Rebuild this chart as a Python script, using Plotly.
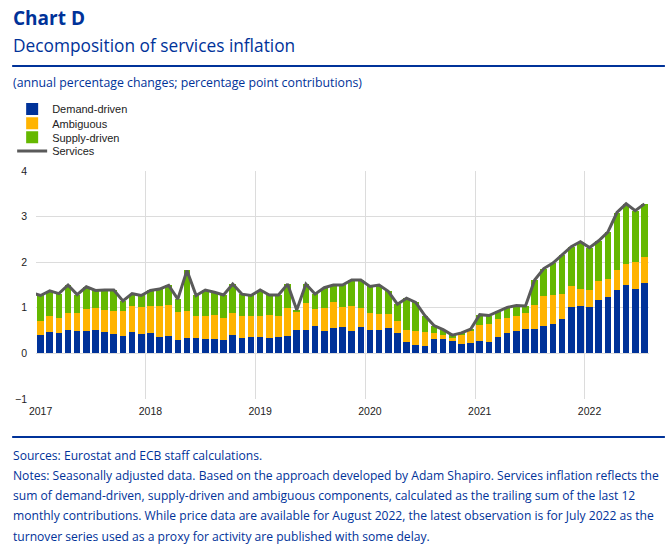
import plotly.graph_objects as go
import numpy as np

# ---------------- data ----------------
months = [f"{y}-{m:02d}" for y in range(2017, 2023) for m in range(1, 13)][:67]
year_labels = ["2017", "2018", "2019", "2020", "2021", "2022"]

demand = [
    0.40, 0.48, 0.45, 0.51, 0.49, 0.49, 0.51, 0.46, 0.42, 0.38, 0.47, 0.43,
    0.45, 0.36, 0.38, 0.29, 0.33, 0.34, 0.32, 0.32, 0.29, 0.41, 0.34, 0.37,
    0.35, 0.34, 0.37, 0.39, 0.52, 0.51, 0.61, 0.49, 0.55, 0.59, 0.50, 0.58,
    0.52, 0.52, 0.56, 0.44, 0.24, 0.19, 0.16, 0.31, 0.32, 0.27, 0.21, 0.23,
    0.27, 0.25, 0.37, 0.45, 0.49, 0.53, 0.53, 0.60, 0.64, 0.75, 1.02, 1.04,
    1.02, 1.18, 1.23, 1.38, 1.50, 1.41, 1.55,
]
ambiguous = [
    0.30, 0.34, 0.33, 0.38, 0.39, 0.49, 0.48, 0.50, 0.52, 0.54, 0.58, 0.58,
    0.59, 0.67, 0.68, 0.61, 0.61, 0.48, 0.50, 0.52, 0.49, 0.47, 0.49, 0.46,
    0.46, 0.50, 0.44, 0.60, 0.40, 0.59, 0.36, 0.50, 0.57, 0.42, 0.55, 0.42,
    0.36, 0.34, 0.30, 0.28, 0.28, 0.31, 0.31, 0.14, 0.08, 0.06, 0.21, 0.27,
    0.36, 0.39, 0.39, 0.33, 0.34, 0.35, 0.54, 0.66, 0.63, 0.56, 0.45, 0.37,
    0.38, 0.40, 0.40, 0.46, 0.47, 0.60, 0.57,
]
supply = [
    0.57, 0.55, 0.53, 0.61, 0.41, 0.48, 0.39, 0.43, 0.45, 0.23, 0.26, 0.26,
    0.34, 0.38, 0.43, 0.29, 0.88, 0.45, 0.57, 0.50, 0.50, 0.64, 0.47, 0.44,
    0.58, 0.44, 0.47, 0.53, 0.03, 0.42, 0.33, 0.45, 0.38, 0.49, 0.56, 0.61,
    0.59, 0.64, 0.50, 0.36, 0.69, 0.62, 0.36, 0.16, 0.12, 0.07, 0.03, 0.03,
    0.22, 0.19, 0.16, 0.23, 0.22, 0.16, 0.54, 0.60, 0.71, 0.85, 0.87, 1.04,
    0.92, 0.89, 1.03, 1.25, 1.31, 1.12, 1.16,
]
# services line: starts with Dec 2016 (clipped by the axis), then Jan 2017 .. Jul 2022
services_dec2016 = 1.33
services = [
    1.27, 1.37, 1.31, 1.50, 1.29, 1.46, 1.38, 1.39, 1.39, 1.15, 1.31, 1.27,
    1.38, 1.41, 1.49, 1.19, 1.82, 1.27, 1.39, 1.34, 1.28, 1.52, 1.30, 1.27,
    1.39, 1.28, 1.28, 1.52, 0.95, 1.52, 1.30, 1.44, 1.50, 1.50, 1.61, 1.61,
    1.47, 1.50, 1.36, 1.08, 1.21, 1.12, 0.83, 0.61, 0.52, 0.40, 0.45, 0.53,
    0.85, 0.83, 0.92, 1.01, 1.05, 1.04, 1.61, 1.86, 1.98, 2.16, 2.34, 2.45,
    2.32, 2.47, 2.66, 3.09, 3.28, 3.13, 3.28,
]

# ---------------- layout helpers ----------------
W, H = 670, 555
ML, MR, MT, MB = 32, 21, 171, 156
PW, PH = W - ML - MR, H - MT - MB


def px(x):
    return (x - ML) / PW


def py(y):
    return (H - MB - y) / PH


BLUE = "#003299"
x_pos = np.arange(len(months)) + 0.5
x_line = np.concatenate([[-0.5], x_pos])
y_line = [services_dec2016] + services

fig = go.Figure()
fig.add_trace(go.Bar(x=x_pos, y=demand, name="Demand-driven", marker=dict(color="#003299", line=dict(width=0)),
                     legend="legend"))
fig.add_trace(go.Bar(x=x_pos, y=ambiguous, name="Ambiguous", marker=dict(color="#FFB400", line=dict(width=0)),
                     legend="legend2"))
fig.add_trace(go.Bar(x=x_pos, y=supply, name="Supply-driven", marker=dict(color="#65B800", line=dict(width=0)),
                     legend="legend3"))
fig.add_trace(go.Scatter(x=x_line, y=y_line, name="Services", mode="lines",
                         line=dict(color="#5a5a5a", width=3), legend="legend4"))

leg_common = dict(xanchor="left", yanchor="middle", bgcolor="rgba(0,0,0,0)", borderwidth=0,
                  font=dict(family="Arial, Liberation Sans, sans-serif", size=11, color="#222222"),
                  itemwidth=30, tracegroupgap=0)

annotations = [
    dict(text="<b>Chart D</b>", x=px(7), y=py(18), font=dict(family="Open Sans", size=19, color=BLUE)),
    dict(text="Decomposition of services inflation", x=px(7), y=py(46),
         font=dict(family="Open Sans", size=17.3, color=BLUE)),
    dict(text="(annual percentage changes; percentage point contributions)", x=px(7), y=py(83),
         font=dict(family="Open Sans", size=12.3, color=BLUE)),
]
note_lines = [
    "Sources: Eurostat and ECB staff calculations.",
    "Notes: Seasonally adjusted data. Based on the approach developed by Adam Shapiro. Services inflation reflects the",
    "sum of demand-driven, supply-driven and ambiguous components, calculated as the trailing sum of the last 12",
    "monthly contributions. While price data are available for August 2022, the latest observation is for July 2022 as the",
    "turnover series used as a proxy for activity are published with some delay.",
]
for i, t in enumerate(note_lines):
    annotations.append(dict(text=t, x=px(7), y=py(455 + i * 20.3),
                            font=dict(family="Open Sans", size=12.1, color=BLUE)))
for a in annotations:
    a.update(xref="paper", yref="paper", xanchor="left", yanchor="middle", showarrow=False, align="left")

shapes = [
    dict(type="line", xref="paper", yref="paper", x0=px(8), x1=px(665), y0=py(66), y1=py(66),
         line=dict(color=BLUE, width=2)),
    dict(type="line", xref="paper", yref="paper", x0=px(8), x1=px(665), y0=py(437), y1=py(437),
         line=dict(color=BLUE, width=2)),
]

fig.update_layout(
    width=W, height=H,
    margin=dict(l=ML, r=MR, t=MT, b=MB, pad=0),
    paper_bgcolor="white", plot_bgcolor="white",
    barmode="stack", bargap=0.28,
    showlegend=True,
    legend=dict(x=px(8), y=py(109), **leg_common),
    legend2=dict(x=px(8), y=py(123.3), **leg_common),
    legend3=dict(x=px(8), y=py(137.3), **leg_common),
    legend4=dict(x=px(8), y=py(151), **leg_common),
    annotations=annotations,
    shapes=shapes,
    font=dict(family="Arial, Liberation Sans, sans-serif", color="#222222"),
    xaxis=dict(range=[0, len(months)], tickmode="array", tickvals=[0.5 + 12 * i for i in range(len(year_labels))],
               ticktext=year_labels, showgrid=False, zeroline=False, showline=False, ticks="",
               tickfont=dict(size=10.5, color="#222222"), ticklabelstandoff=4,
               minor=dict(tick0=0, dtick=12, showgrid=True, gridcolor="#dcdcdc", gridwidth=1, ticks="")),
    yaxis=dict(range=[-1, 4], dtick=1, showgrid=True, gridcolor="#dcdcdc", gridwidth=1, zeroline=False,
               showline=False, ticks="", tickfont=dict(size=10.5, color="#222222"), ticklabelstandoff=8),
)

fig.write_html("out.html", config={"displayModeBar": False},
               post_script="document.body.style.margin='0px';")
